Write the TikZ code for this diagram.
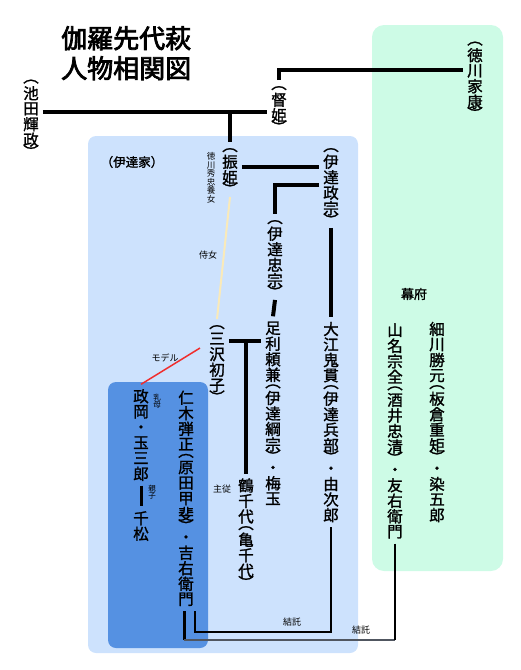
\documentclass[tikz,border=0pt]{standalone}
\usepackage{fontspec}
\newfontfamily\cjk[FakeBold=1.4]{Noto Sans CJK JP}
\newfontfamily\cjklight{Noto Sans CJK JP}
\newfontfamily\cjkheavy[FakeBold=3]{Noto Sans CJK JP}

\definecolor{dateblue}{RGB}{205,226,253}
\definecolor{kidsblue}{RGB}{85,145,226}
\definecolor{bakufugreen}{RGB}{205,251,230}
\definecolor{maidyellow}{RGB}{250,234,185}
\definecolor{modelred}{RGB}{240,45,45}
\definecolor{plotgray}{RGB}{80,86,96}

%% vertical writing, one character under the other
\makeatletter
\def\vt@open{（}
\def\vt@close{）}
\newcommand\vt[1]{\vbox{\offinterlineskip\vt@loop#1\relax}}
\def\vt@loop#1{\ifx\relax#1\else\vt@char{#1}\expandafter\vt@loop\fi}
\def\vt@char#1{\def\vt@tmp{#1}%
  \ifx\vt@tmp\vt@open
    \hbox to 1em{\hss\vbox to .5em{\vss\hbox{︵}\vss}\hss}%
  \else\ifx\vt@tmp\vt@close
    \hbox to 1em{\hss\vbox to .5em{\vss\hbox{︶}\vss}\hss}%
  \else
    \hbox to 1em{\hss\vbox to 1em{\vss\hbox{\vphantom{国}#1}\vss}\hss}%
  \fi\fi}
\makeatother

\tikzset{
  person/.style={font=\cjk\fontsize{15.5}{15.5}\selectfont, inner sep=4pt},
  titletxt/.style={font=\cjkheavy\fontsize{26}{30}\selectfont, inner sep=0pt, align=left},
  smalltxt/.style={font=\cjklight\fontsize{9}{9}\selectfont, inner sep=1pt},
  tinytxt/.style={font=\cjklight\fontsize{7.5}{7.5}\selectfont, inner sep=1pt},
  famline/.style={line width=4pt},
  thinline/.style={line width=1.5pt},
}

\begin{document}
\begin{tikzpicture}[x=1pt, y=-1pt]
    %% junction heights
    \def\yIkeda{112};
    \def\yIeyasu{70};
    \def\yFuri{167};
    \def\yMasa{185};
    \def\yHatsu{341};

    \useasboundingbox (0,0) rectangle (520,670);

    %% backgrounds
    \fill[dateblue, rounded corners=8pt] (88,136) rectangle (358,653);
    \fill[bakufugreen, rounded corners=12pt] (372,25) rectangle (503,571);
    \fill[kidsblue, rounded corners=8pt] (108,382) rectangle (208,648);

    %% title
    \node[titletxt, anchor=north west] (title) at (61,26) {伽羅先代萩\\人物相関図};

    %% people
    \node[person] (ikeda) at (31,116.5) {\vt{（池田輝政）}};
    \node[person] (tokuhime) at (279,107.5) {\vt{（督姫）}};
    \node[person] (ieyasu) at (475,78.5) {\vt{（徳川家康）}};
    \node[person] (furihime) at (230,169.5) {\vt{（振姫）}};
    \node[person] (masamune) at (331,185) {\vt{（伊達政宗）}};
    \node[person] (tadamune) at (275,257) {\vt{（伊達忠宗）}};
    \node[person] (yorikane) at (273,413.5) {\vt{足利頼兼（伊達綱宗）・梅玉}};
    \node[person] (onie) at (331,422) {\vt{大江鬼貫（伊達兵部）・由次郎}};
    \node[person] (hatsuko) at (217,362) {\vt{（三沢初子）}};
    \node[person] (tsuruchiyo) at (246,532) {\vt{鶴千代（亀千代）}};
    \node[person] (masaoka) at (141,435) {\vt{政岡・玉三郎}};
    \node[person] (senmatsu) at (141,526) {\vt{千松}};
    \node[person] (nikki) at (186,498.5) {\vt{仁木弾正（原田甲斐）・吉右衛門}};
    \node[person] (yamana) at (395,431) {\vt{山名宗全（酒井忠清）・友右衛門}};
    \node[person] (hosokawa) at (437,422) {\vt{細川勝元（板倉重矩）・染五郎}};

    %% other text
    \node[font=\cjk\fontsize{12.5}{12.5}\selectfont] (datehouse) at (132,162) {（伊達家）};
    \node[font=\cjk\fontsize{13}{13}\selectfont] (bakufu) at (414,294) {幕府};
    \node[tinytxt, font=\cjklight\fontsize{8.5}{8.5}\selectfont] (yojo) at (211,178) {\vt{徳川秀忠養女}};
    \node[tinytxt] (uba) at (157,401) {\vt{乳母}};
    \node[tinytxt] (oyako) at (152,492) {\vt{親子}};
    \node[smalltxt] (shuju) at (222,489) {主従};
    \node[smalltxt] (kettakuA) at (292,622) {結託};
    \node[smalltxt] (kettakuB) at (361,630) {結託};

    %% family lines
    \coordinate (mIkeda) at (230,\yIkeda);
    \coordinate (mIeyasu) at (279,\yIeyasu);
    \coordinate (mFuri) at (290,\yFuri);
    \coordinate (mMasa) at (275,\yMasa);
    \coordinate (mHatsu) at (246,\yHatsu);

    \draw[famline] (ikeda.east |- mIkeda) -- (tokuhime.west |- mIkeda);
    \draw[famline] (mIkeda) -- (furihime.north);
    \draw[famline] (tokuhime.north) -- (mIeyasu) -- (ieyasu.west |- mIeyasu);
    \draw[famline] (furihime.east |- mFuri) -- (masamune.west |- mFuri);
    \draw[famline] (masamune.west |- mMasa) -- (mMasa) -- (tadamune.north);
    \draw[famline] (tadamune.south) -- (yorikane.north);
    \draw[famline] (masamune.south) -- (onie.north);
    \draw[famline] (hatsuko.east |- mHatsu) -- (yorikane.west |- mHatsu);
    \draw[famline] (mHatsu) -- (tsuruchiyo.north);
    \draw[line width=3pt] (masaoka.south) -- (senmatsu.north);

    %% maid and model
    \draw[maidyellow, line width=2pt] (furihime.south) -- (hatsuko.north);
    \node[smalltxt] (jijo) at (208,255) {侍女};
    \coordinate (mModel) at (200,348);
    \draw[modelred, line width=1.5pt] (mModel) -- (masaoka.north);
    \node[smalltxt] (model) at (165,358) {モデル};

    %% plots
    \coordinate (mPlotA) at (195,632);
    \coordinate (mPlotB) at (184,640);
    \draw[thinline] (nikki.south -| mPlotA) -- (mPlotA) -| (onie.south);
    \draw[line width=3pt] (nikki.south -| mPlotB) -- (mPlotB);
    \draw[plotgray, line width=2.5pt] (mPlotB) -- (mPlotB -| yamana.south);
    \draw[thinline] (yamana.south) -- (yamana.south |- mPlotB);
\end{tikzpicture}
\end{document}
